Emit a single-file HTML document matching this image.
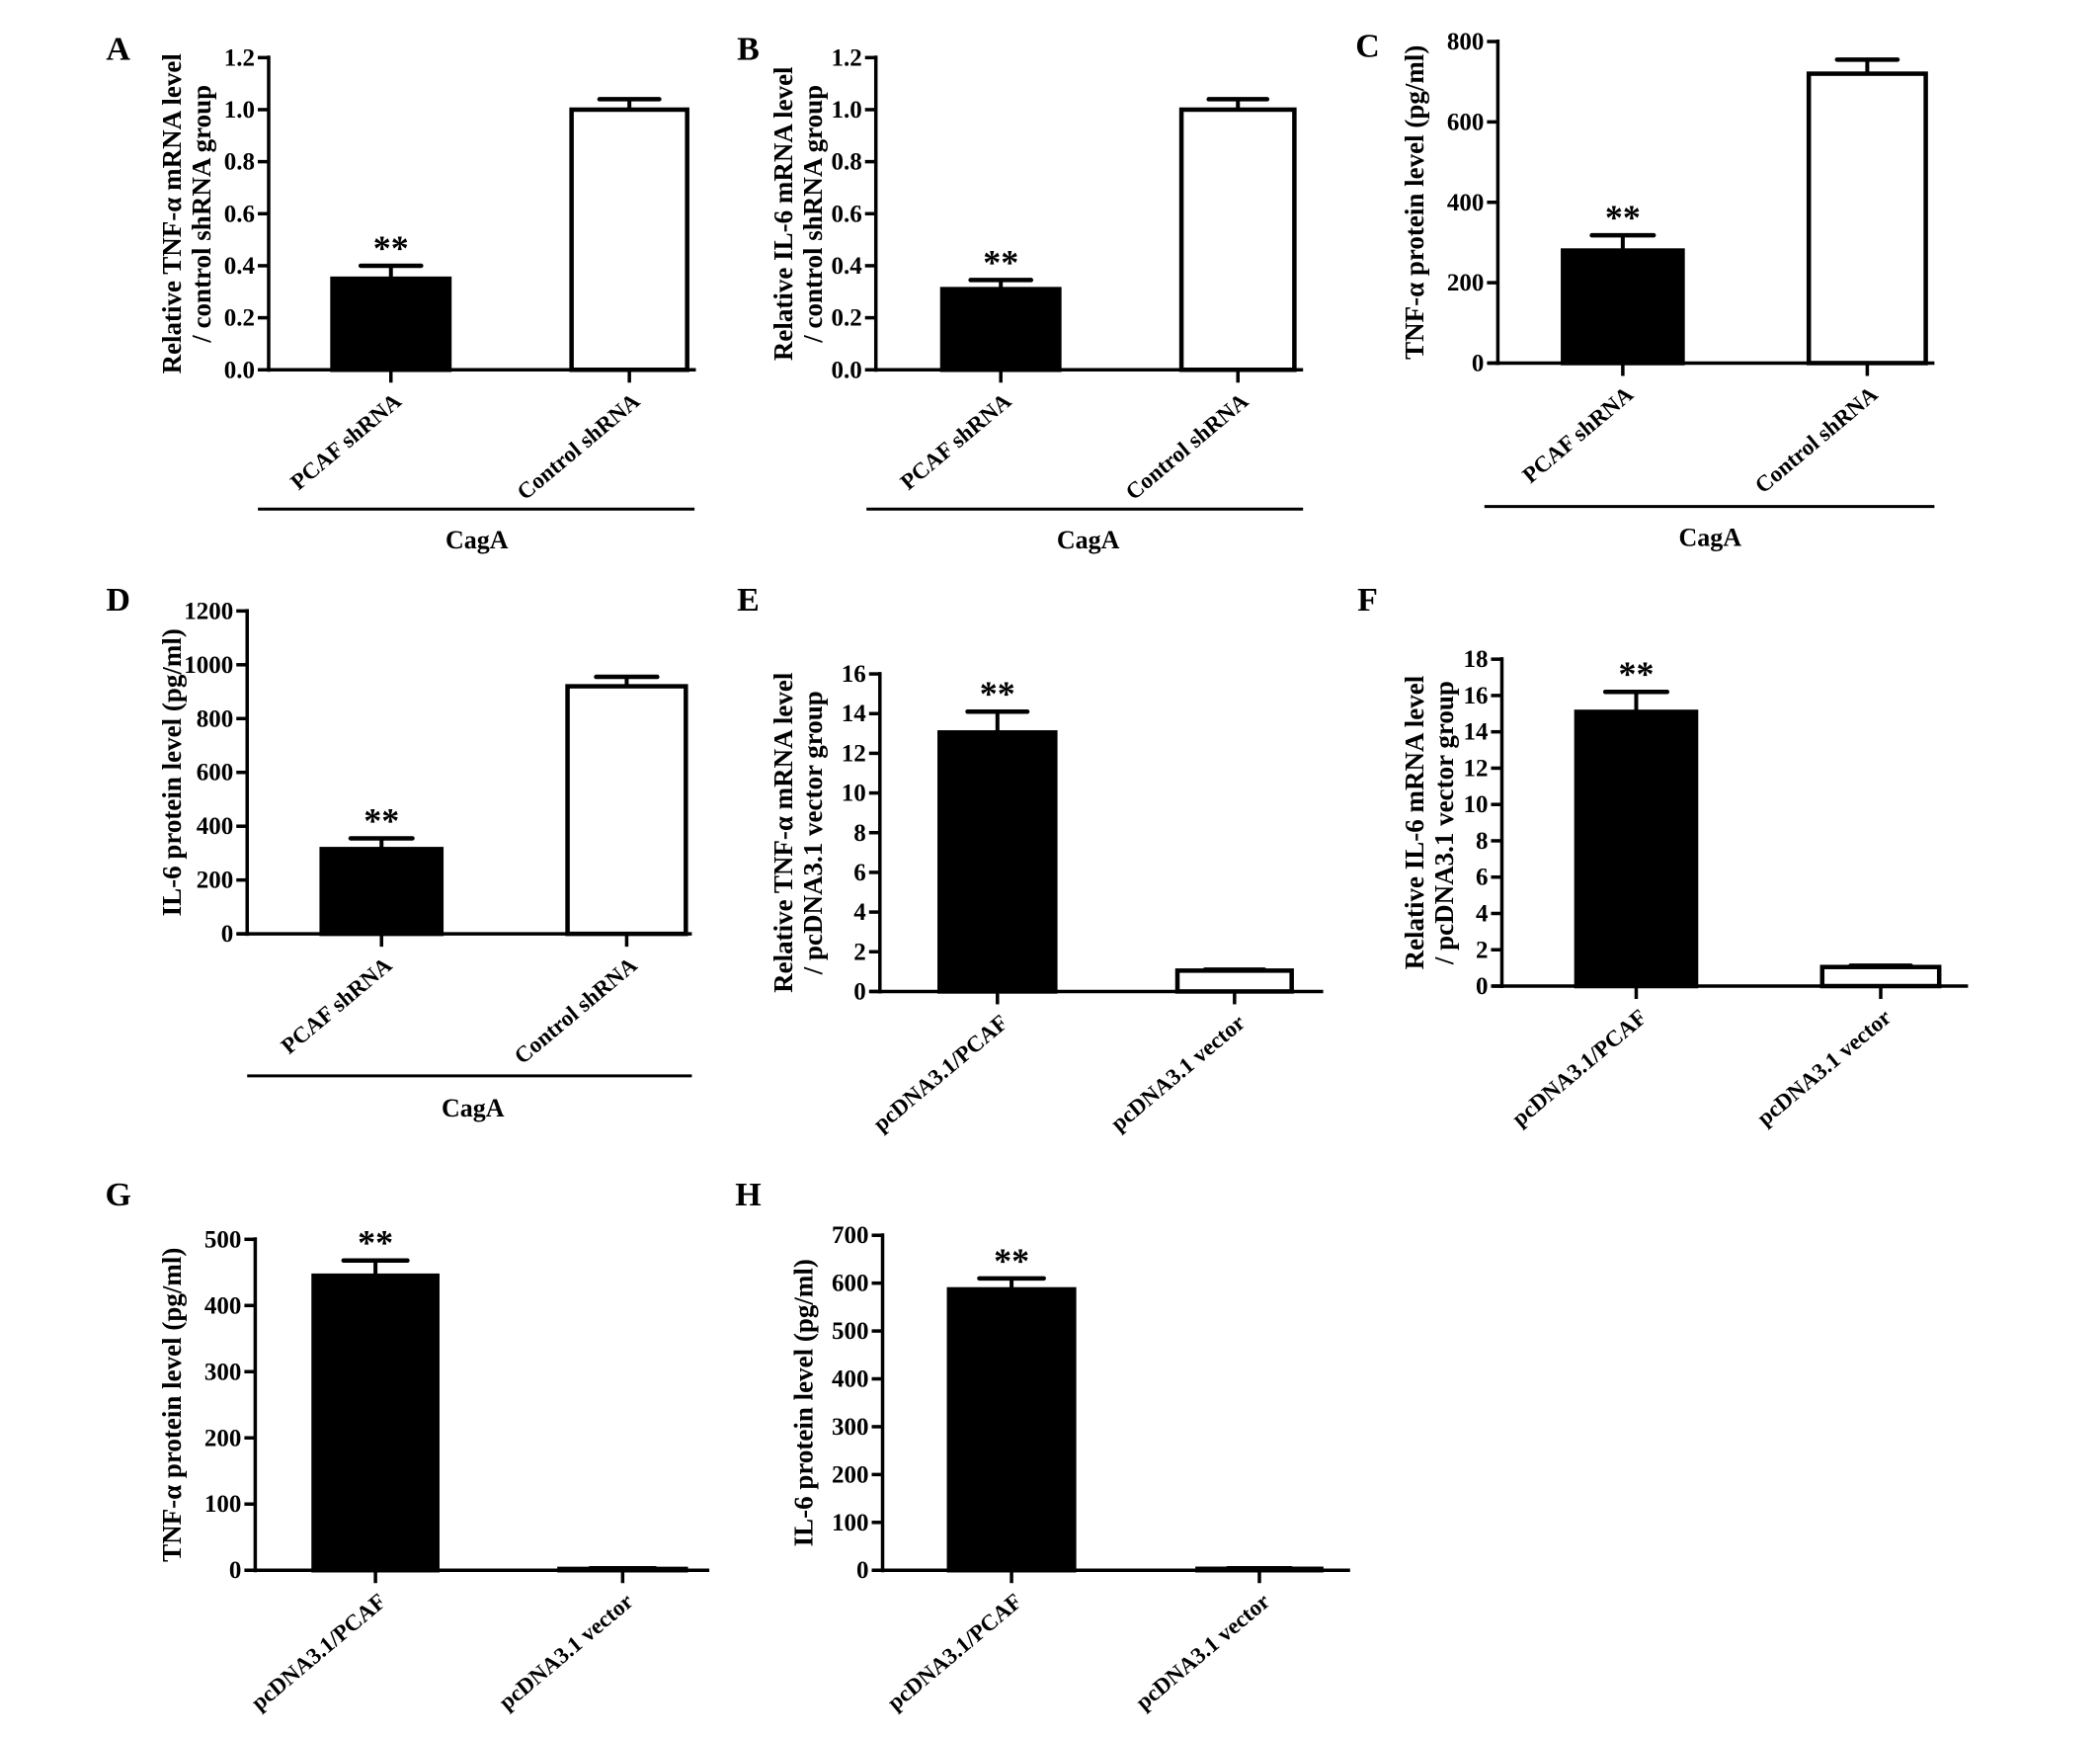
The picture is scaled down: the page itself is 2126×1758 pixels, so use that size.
<!DOCTYPE html>
<html><head><meta charset="utf-8">
<style>
html,body{margin:0;padding:0;background:#fff;}
svg{display:block;}
text{font-family:"Liberation Serif",serif;font-weight:bold;fill:#000;}
</style></head>
<body>
<svg id="fig" width="2126" height="1758" viewBox="0 0 2126 1758" xmlns="http://www.w3.org/2000/svg"></svg>
<script>
// ---- data ----
const catsShRNA = ["PCAF shRNA", "Control shRNA"];
const catsVec = ["pcDNA3.1/PCAF", "pcDNA3.1 vector"];
const valsA = [0.35, 1.0];  const errA = [0.40, 1.04];
const valsB = [0.31, 1.0];  const errB = [0.345, 1.04];
const valsC = [280, 720];   const errC = [318, 755];
const valsD = [315, 920];   const errD = [355, 955];
const valsE = [13.05, 1.05]; const errE = [14.1, 1.1];
const valsF = [15.1, 1.05];  const errF = [16.2, 1.12];
const valsG = [445, 2];      const errG = [468, 3];
const valsH = [587, 3];      const errH = [610, 4];
const ticksA = [0, 0.2, 0.4, 0.6, 0.8, 1.0, 1.2];
const ticksC = [0, 200, 400, 600, 800];
const ticksD = [0, 200, 400, 600, 800, 1000, 1200];
const ticksE = [0, 2, 4, 6, 8, 10, 12, 14, 16];
const ticksF = [0, 2, 4, 6, 8, 10, 12, 14, 16, 18];
const ticksG = [0, 100, 200, 300, 400, 500];
const ticksH = [0, 100, 200, 300, 400, 500, 600, 700];

const NS = "http://www.w3.org/2000/svg";
const svg = document.getElementById('fig');
const FX = 1.36, FY = 1.356;
function mk(tag, attrs, parent) {
  const e = document.createElementNS(NS, tag);
  for (const k in attrs) e.setAttribute(k, attrs[k]);
  (parent || svg).appendChild(e);
  return e;
}

const panels = [
  {id:'A', vals:valsA, err:errA, ticks:ticksA, dec:1, cats:catsShRNA, lx:88, ly:35, ax:200, yt:43, y0:276, xe:518,
   bars:[[246,336],[424,513]], title:["Relative TNF-\u03b1  mRNA level","/ control shRNA group"], tx:[128,150], bracket:[192,517,380], cag:[355,402]},
  {id:'B', vals:valsB, err:errB, ticks:ticksA, dec:1, cats:catsShRNA, lx:557, ly:35, ax:652, yt:43, y0:276, xe:970,
   bars:[[700,790],[878,965]], title:["Relative IL-6 mRNA level","/ control shRNA group"], tx:[583,605], bracket:[645,970,380], cag:[810,402]},
  {id:'C', vals:valsC, err:errC, ticks:ticksC, dec:0, cats:catsShRNA, lx:1018, ly:33, ax:1115, yt:31, y0:271, xe:1440,
   bars:[[1162,1254],[1345,1435]], title:["TNF-\u03b1  protein level (pg/ml)"], tx:[1053], bracket:[1105,1440,378], cag:[1273,400]},
  {id:'D', vals:valsD, err:errD, ticks:ticksD, dec:0, cats:catsShRNA, lx:88, ly:446, ax:184, yt:456, y0:697, xe:515,
   bars:[[238,330],[421,512]], title:["IL-6 protein level (pg/ml)"], tx:[128], bracket:[184,515,803], cag:[352,826]},
  {id:'E', vals:valsE, err:errE, ticks:ticksE, dec:0, cats:catsVec, lx:557, ly:446, ax:655, yt:503, y0:740, xe:985,
   bars:[[698,787],[875,963]], title:["Relative TNF-\u03b1  mRNA level","/ pcDNA3.1 vector group"], tx:[583,605]},
  {id:'F', vals:valsF, err:errF, ticks:ticksF, dec:0, cats:catsVec, lx:1018, ly:446, ax:1118, yt:492, y0:736, xe:1465,
   bars:[[1172,1264],[1355,1445]], title:["Relative IL-6 mRNA level","/ pcDNA3.1 vector group"], tx:[1053,1075]},
  {id:'G', vals:valsG, err:errG, ticks:ticksG, dec:0, cats:catsVec, lx:88, ly:890, ax:190, yt:925, y0:1172, xe:528,
   bars:[[232,327],[415,512]], title:["TNF-\u03b1  protein level  (pg/ml)"], tx:[128]},
  {id:'H', vals:valsH, err:errH, ticks:ticksH, dec:0, cats:catsVec, lx:557, ly:890, ax:657, yt:922, y0:1172, xe:1005,
   bars:[[705,801],[890,985]], title:["IL-6 protein level  (pg/ml)"], tx:[598]}
];

panels.forEach(p => {
  const g = mk('g', {});
  
  
  const ax = p.ax*FX, yt = p.yt*FY, y0 = p.y0*FY, xe = p.xe*FX;
  const tmax = p.ticks[p.ticks.length-1];
  const yS = v => y0 - (v / tmax) * (y0 - yt);

  const lab = mk('text', {x:p.lx*FX, y:p.ly*FY + 13, 'font-size':34, 'text-anchor':'middle'}, g);
  lab.textContent = p.id;
  
  

  const midY = (yt + y0) / 2;
  p.title.forEach((t, i) => {
    const tx = p.tx[i]*FX + 9;
    const el = mk('text', {x:tx, y:midY, 'font-size':27, 'text-anchor':'middle', transform:`rotate(-90 ${tx} ${midY})`}, g);
    el.textContent = t;
    
    
  });

  p.vals.forEach((v, i) => {
    const x1 = p.bars[i][0]*FX, x2 = p.bars[i][1]*FX, cx = (x1+x2)/2, w = x2-x1;
    const yv = yS(v), ye = yS(p.err[i]);
    const eb = mk('line', {x1:cx, x2:cx, y1:yv, y2:ye, stroke:'#000', 'stroke-width':4}, g);
    
    
    const cap = mk('line', {x1:cx - w/4, x2:cx + w/4, y1:ye, y2:ye, stroke:'#000', 'stroke-width':4.5, 'stroke-linecap':'round'}, g);
    
    
    const r = mk('rect', {x:x1+2, y:yv, width:Math.max(w-4,1), height:Math.max(y0-yv,0.5), fill: i===0?'#000':'#fff', stroke:'#000', 'stroke-width':4.5}, g);
    
    
    const tk = mk('line', {x1:cx, x2:cx, y1:y0, y2:y0+13, stroke:'#000', 'stroke-width':3.5}, g);
    
    
    const lx = cx + 12, ly = y0 + 34;
    const ct = mk('text', {x:lx, y:ly, 'font-size':23, 'text-anchor':'end', transform:`rotate(-40 ${lx} ${ly})`}, g);
    ct.textContent = p.cats[i];
    
    
    if (i === 0) {
      const st = mk('text', {x:cx, y:ye - 6, 'font-size':36, 'text-anchor':'middle'}, g);
      st.textContent = '**';
      
      
    }
  });

  const yaxis = mk('line', {x1:ax, x2:ax, y1:yt-2, y2:y0+2, stroke:'#000', 'stroke-width':3.5}, g);
  
  
  const xaxis = mk('line', {x1:ax-10, x2:xe, y1:y0, y2:y0, stroke:'#000', 'stroke-width':3.5}, g);
  
  
  p.ticks.forEach(t => {
    const y = yS(t);
    const tl = mk('line', {x1:ax-11, x2:ax, y1:y, y2:y, stroke:'#000', 'stroke-width':3.5}, g);
    
    
    const tt = mk('text', {x:ax-14, y:y+8, 'font-size':25, 'text-anchor':'end'}, g);
    tt.textContent = t.toFixed(p.dec);
    
    
  });

  if (p.bracket) {
    const b = p.bracket;
    const bl = mk('line', {x1:b[0]*FX, x2:b[1]*FX, y1:b[2]*FY, y2:b[2]*FY, stroke:'#000', 'stroke-width':3}, g);
    
    
    const ca = mk('text', {x:p.cag[0]*FX, y:p.cag[1]*FY + 10, 'font-size':26, 'text-anchor':'middle'}, g);
    ca.textContent = 'CagA';
    
    
  }
});
</script>
</body></html>
